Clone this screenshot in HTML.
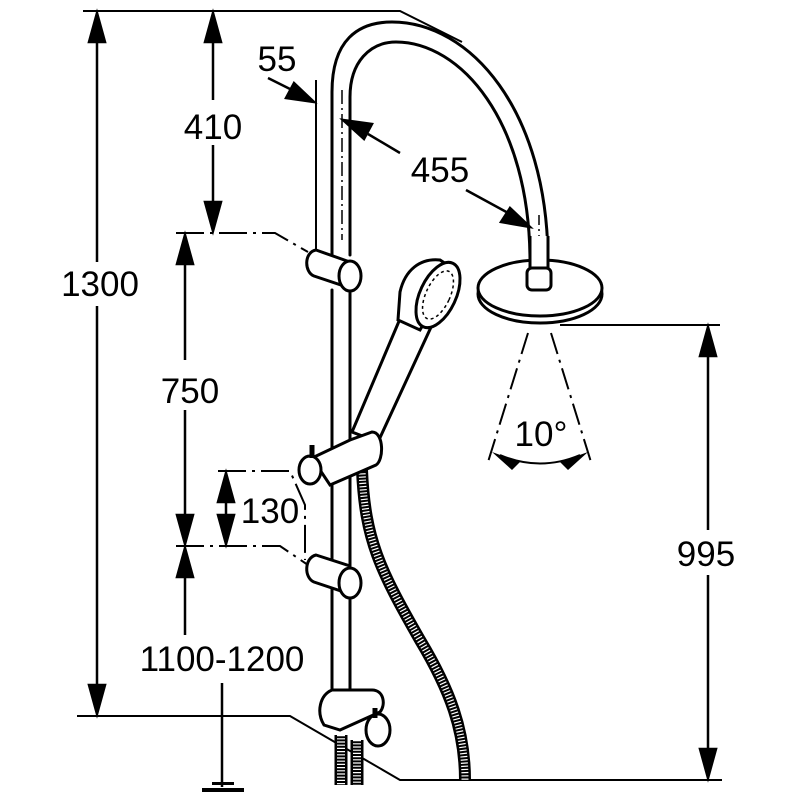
<!DOCTYPE html>
<html><head><style>html,body{margin:0;padding:0;background:#fff}svg{display:block}</style></head><body>
<svg width="800" height="800" viewBox="0 0 800 800" xmlns="http://www.w3.org/2000/svg" font-family="Liberation Sans, Arial, sans-serif">
<g stroke="#000" stroke-width="2" fill="none">
<path d="M83,11 L400,11 L462,42"/>
<path d="M77,716 L290,716 L400,780 L722,780"/>
<path d="M560,325 L720,325"/>
<path d="M176,233 L275,233 L308,252" stroke-dasharray="28,6,3,6"/>
<path d="M176,546 L280,546 L308,565" stroke-dasharray="28,6,3,6"/>
<path d="M218,471 L290,471 L305,505 L305,560" stroke-dasharray="28,6,3,6"/>
<line x1="316" y1="80" x2="316" y2="250"/>
</g>
<g stroke="#000" stroke-width="2.5" fill="#000">
<line x1="97" y1="40" x2="97" y2="690"/>
<path d="M97,13 L89,42 L105,42 z M97,714 L89,685 L105,685 z"/>
<line x1="213" y1="40" x2="213" y2="100"/><line x1="213" y1="145" x2="213" y2="205"/>
<path d="M213,13 L205,42 L221,42 z M213,231 L205,202 L221,202 z"/>
<line x1="185" y1="262" x2="185" y2="360"/><line x1="185" y1="410" x2="185" y2="518"/>
<path d="M185,235 L177,264 L193,264 z M185,544 L177,515 L193,515 z"/>
<line x1="226" y1="500" x2="226" y2="518"/>
<path d="M226,473 L218,502 L234,502 z M226,544 L218,515 L234,515 z"/>
<line x1="185" y1="575" x2="185" y2="635"/>
<path d="M185,548 L177,577 L193,577 z"/>
<line x1="222" y1="683" x2="222" y2="787"/>
<rect x="202" y="788" width="42" height="4" stroke="none"/>
<rect x="212" y="782" width="22" height="3" stroke="none"/>
<line x1="708" y1="355" x2="708" y2="530"/><line x1="708" y1="575" x2="708" y2="752"/>
<path d="M708,327 L700,356 L716,356 z M708,778 L700,749 L716,749 z"/>
<line x1="268" y1="78" x2="292" y2="90"/>
<path d="M314,102 L286,98 L294,83 z"/>
<line x1="400" y1="153" x2="368" y2="134"/>
<path d="M343,120 L372,124 L364,139 z"/>
<line x1="466" y1="190" x2="510" y2="214"/>
<path d="M530,227 L501,222 L510,208 z"/>
</g>
<g stroke="#000" stroke-width="3" fill="none" stroke-linecap="round">
<path d="M332,255 L332,92 C332,40 358,22 392,22 C470,22 548,110 548,262"/>
<path d="M350,255 L350,97 C350,62 370,42 396,42 C460,42 530,120 530,262"/>
<line x1="332" y1="290" x2="332" y2="700"/>
<line x1="350" y1="290" x2="350" y2="700"/>
</g>
<line x1="342" y1="90" x2="342" y2="240" stroke="#000" stroke-width="1.5" stroke-dasharray="14,4,2,4"/>
<line x1="539" y1="215" x2="539" y2="262" stroke="#000" stroke-width="1.5" stroke-dasharray="10,4,2,4"/>
<g stroke="#000" stroke-width="3" fill="#fff">
<ellipse cx="540" cy="294" rx="62" ry="29"/>
<ellipse cx="540" cy="288" rx="62" ry="28"/>
<rect x="530" y="236" width="18" height="34" stroke="none"/>
<line x1="530" y1="236" x2="530" y2="270"/><line x1="548" y1="236" x2="548" y2="270"/>
<rect x="527" y="268" width="24" height="22" rx="5"/>
</g>
<g stroke="#000" stroke-width="2" fill="none" stroke-dasharray="22,6,3,6">
<line x1="528" y1="333" x2="488" y2="462"/>
<line x1="551" y1="333" x2="591" y2="462"/>
</g>
<path d="M500,455 Q540,472 580,455" stroke="#000" stroke-width="2" fill="none"/>
<path d="M492,452 L520,462 L512,470 z M588,452 L560,462 L568,470 z" fill="#000"/>
<g stroke="#000" fill="none">
<path d="M362,470 C365,540 380,570 420,640 C450,690 465,730 465,780" stroke-width="12"/>
<path d="M362,470 C365,540 380,570 420,640 C450,690 465,730 465,780" stroke-width="7" stroke="#fff" stroke-dasharray="1.2,2"/>
<path d="M341,735 L341,785 M357,740 L357,785" stroke-width="13"/>
<path d="M341,735 L341,785 M357,740 L357,785" stroke-width="8" stroke="#fff" stroke-dasharray="1.2,2"/>
</g>
<g stroke="#000" stroke-width="3" fill="#fff">
<path d="M316,250 L350,262 L350,288 L314,276 C304,272 304,252 316,250 z"/>
<ellipse cx="350" cy="276" rx="11" ry="15"/>
<path d="M316,555 L350,566 L350,594 L314,582 C304,578 304,558 316,555 z"/>
<ellipse cx="350" cy="583" rx="11" ry="15"/>
<path d="M352,432 L408,300 L438,312 L378,442 z"/>
<path d="M400,292 C405,270 420,258 440,260 L455,270 L420,330 L398,320 z"/>
<ellipse cx="438" cy="295" rx="18" ry="35" transform="rotate(25 438 295)"/>
<ellipse cx="438" cy="295" rx="12" ry="26" transform="rotate(25 438 295)" stroke-width="1.5" stroke-dasharray="3,3"/>
<path d="M312,458 L350,440 L372,432 C384,432 384,460 376,465 L330,485 z"/>
<ellipse cx="310" cy="470" rx="11" ry="14"/>
<line x1="312" y1="445" x2="312" y2="458" stroke-width="5"/>
<path d="M332,690 L350,690 L372,690 C384,690 386,705 380,712 L340,730 L324,725 C316,712 320,695 332,690 z"/>
<ellipse cx="378" cy="730" rx="12" ry="16"/>
<line x1="375" y1="708" x2="375" y2="718" stroke-width="5"/>
</g>
<g font-size="35" fill="#000" text-anchor="middle">
<rect x="175" y="100" width="76" height="44" fill="#fff"/>
<text x="213" y="139">410</text>
<text x="277" y="71">55</text>
<text x="440" y="182">455</text>
<rect x="58" y="262" width="84" height="44" fill="#fff"/>
<text x="100" y="296">1300</text>
<rect x="155" y="362" width="70" height="46" fill="#fff"/>
<text x="190" y="403">750</text>
<text x="270" y="523">130</text>
<rect x="670" y="530" width="75" height="44" fill="#fff"/>
<text x="706" y="566">995</text>
<text x="222" y="671">1100-1200</text>
<text x="541" y="446">10°</text>
</g>
</svg>
</body></html>
